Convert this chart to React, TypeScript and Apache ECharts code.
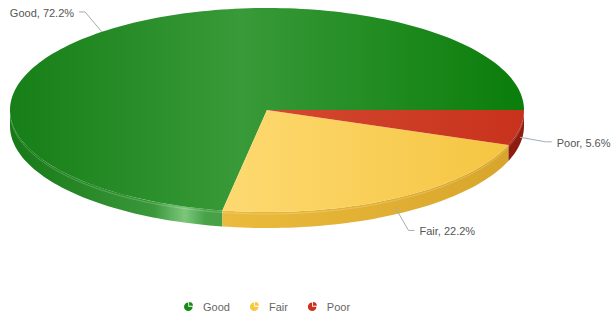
import React, { useEffect, useRef } from "react";
import * as echarts from "echarts";

// ---- data ----
const categories = ["Good", "Fair", "Poor"];
const values = [13, 4, 1];
const legendColors = ["#1a8a1a", "#f8c840", "#cc321e"];

// ---- geometry / style (not data) ----
const CX = 267;
const CY = 110;
const RX = 257;
const RY = 102;
const DEPTH = 16;
const FONT = "Liberation Sans, Arial, sans-serif";

const topStops: [number, string][][] = [
  [[0, "#177f17"], [0.45, "#389a38"], [1, "#0a7d0a"]],
  [[0, "#fee08a"], [0.45, "#fdd86e"], [1, "#f4c43e"]],
  [[0, "#de5a40"], [0.5, "#d44830"], [1, "#c8321c"]],
];
const sideStops: [number, string][][] = [
  [[0, "#167816"], [0.28, "#3a983a"], [0.34, "#7cc67c"], [0.38, "#48a248"], [1, "#2a8a2a"]],
  [[0, "#f4c64c"], [0.5, "#e8b83a"], [1, "#d6a42a"]],
  [[0, "#b0301c"], [1, "#8e1c0e"]],
];

const TOTAL = values.reduce((a, b) => a + b, 0);

function pt(a: number, dy = 0): number[] {
  const r = (a * Math.PI) / 180;
  return [CX + RX * Math.cos(r), CY + RY * Math.sin(r) + dy];
}
function arcPts(a0: number, a1: number, dy = 0): number[][] {
  const n = Math.max(2, Math.ceil(Math.abs(a1 - a0) / 1.5));
  const pts: number[][] = [];
  for (let i = 0; i <= n; i++) pts.push(pt(a0 + ((a1 - a0) * i) / n, dy));
  return pts;
}
function grad(stops: [number, string][]) {
  return {
    type: "linear",
    x: CX - RX,
    y: 0,
    x2: CX + RX,
    y2: 0,
    global: true,
    colorStops: stops.map(([offset, color]) => ({ offset, color })),
  };
}

function sliceAngles(i: number) {
  let cum = 0;
  for (let k = 0; k < i; k++) cum += values[k];
  const a0 = (-cum / TOTAL) * 360;
  const a1 = (-(cum + values[i]) / TOTAL) * 360;
  return { a0, a1 };
}

function makeRenderItem(i: number) {
  return (params: any, api: any) => {
    const v = api.value(0);
    const { a0, a1 } = sliceAngles(i);
    const children: any[] = [];
    // top face
    const topPts = [[CX, CY], ...arcPts(a0, a1)];
    children.push({
      type: "polygon",
      z2: 10,
      shape: { points: topPts },
      style: { fill: grad(topStops[i]), stroke: null },
      silent: true,
    });
    // side (visible front half 0..180)
    let lo = Math.min(a0, a1);
    let hi = Math.max(a0, a1);
    while (lo < 0) {
      lo += 360;
      hi += 360;
    }
    const s = Math.max(lo, 0);
    const e = Math.min(hi, 180);
    if (e > s) {
      const top = arcPts(s, e);
      const bot = arcPts(e, s, DEPTH);
      children.push({
        type: "polygon",
        z2: 1,
        shape: { points: [...top, ...bot] },
        style: { fill: grad(sideStops[i]), stroke: null },
        silent: true,
      });
      children.push({
        type: "polyline",
        z2: 2,
        shape: { points: arcPts(s, e, 2) },
        style: { stroke: "rgba(255,255,255,0.22)", lineWidth: 1, fill: null },
        silent: true,
      });
    }
    // label
    const mid = (a0 + a1) / 2;
    const r = (mid * Math.PI) / 180;
    const c = Math.cos(r);
    const sn = Math.sin(r);
    const p = pt(mid, sn > 0 ? DEPTH * 0.6 : 0);
    const L = 26;
    const elbow = [p[0] + L * c, p[1] + L * sn];
    const dir = c < 0 ? -1 : 1;
    const end = [elbow[0] + dir * 6, elbow[1]];
    children.push({
      type: "polyline",
      z2: 20,
      shape: { points: [p, elbow, end] },
      style: { stroke: "#a3adb6", lineWidth: 1, fill: null },
      silent: true,
    });
    const pct = ((v / TOTAL) * 100).toFixed(1);
    children.push({
      type: "text",
      z2: 21,
      silent: true,
      style: {
        text: `${categories[i]}, ${pct}%`,
        x: end[0] + dir * 5,
        y: end[1] + 1,
        fill: "#555555",
        font: `11px ${FONT}`,
        align: dir < 0 ? "right" : "left",
        verticalAlign: "middle",
      },
    });
    return { type: "group", children };
  };
}

const iconPath =
  "path://M10,11 L10,1 A10,10 0 1,0 20,11 Z M12,9 L12,0 A9,9 0 0,1 21,9 Z";

export default function App() {
  const ref = useRef<HTMLDivElement>(null);
  useEffect(() => {
    if (!ref.current) return;
    const chart = echarts.init(ref.current, undefined, { renderer: "svg" });
    chart.setOption({
      animation: false,
      backgroundColor: "#ffffff",
      legend: {
        data: categories.map((name) => ({ name, icon: iconPath })),
        left: 184,
        top: 301,
        padding: 0,
        itemWidth: 19,
        itemHeight: 9,
        itemGap: 20,
        textStyle: { color: "#666666", fontSize: 11, fontFamily: FONT },
      },
      series: categories.map((name, i) => ({
        type: "custom",
        name,
        coordinateSystem: "none",
        itemStyle: { color: legendColors[i] },
        data: [values[i]],
        renderItem: makeRenderItem(i),
      })),
    });
    return () => chart.dispose();
  }, []);
  return (
    <div
      ref={ref}
      style={{ position: "fixed", left: 0, top: 0, width: 616, height: 320 }}
    />
  );
}
